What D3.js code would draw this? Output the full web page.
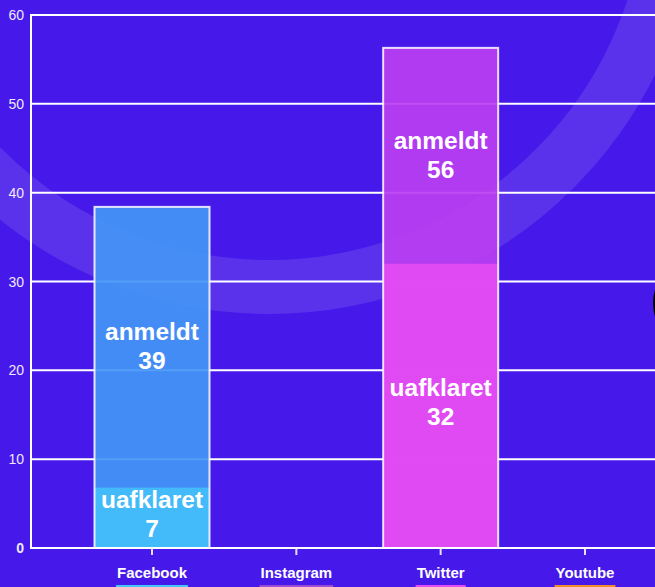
<!DOCTYPE html>
<html><head><meta charset="utf-8">
<script src="https://cdn.jsdelivr.net/npm/d3@7/dist/d3.min.js"></script>
<style>
html,body{margin:0;padding:0;background:#4619EA;overflow:hidden}
svg{display:block;font-family:"Liberation Sans",Arial,Helvetica,sans-serif}
</style></head>
<body><svg id="c" width="655" height="587"></svg>
<script>
const categories = ["Facebook", "Instagram", "Twitter", "Youtube"];
const anmeldt = [38.4, 0, 56.3, 0];
const uafklaret = [6.8, 0, 32, 0];
const anmeldtLabels = ["39", null, "56", null];
const uafklaretLabels = ["7", null, "32", null];
const anmeldtColors = ["#4496F5", "#8E4AE0", "#BB3EF0", "#F08A2C"];
const uafklaretColors = ["#44BBF9", "#9D4FD8", "#E24BF3", "#F08C2A"];
const legendColors = ["#42C6F8", "#9A4CD6", "#E24BF3", "#F08C2A"];
const yTicks = [0, 10, 20, 30, 40, 50, 60];

(function () {
const W = 655, H = 587;
const svg = d3.select("#c");
svg.append("rect").attr("width", W).attr("height", H).attr("fill", "#4619EA");

// decorative ring
svg.append("circle").attr("cx", 269).attr("cy", -117).attr("r", 404)
  .attr("fill", "none").attr("stroke", "#fff").attr("stroke-opacity", 0.11).attr("stroke-width", 54);
svg.append("circle").attr("cx", 699).attr("cy", 303).attr("r", 46).attr("fill", "#000");

const mLeft = 31, mRight = W, mTop = 15, mBottom = 548;
const y = d3.scaleLinear().domain([0, 60]).range([mBottom, mTop]);
const x = d3.scalePoint().domain(categories).range([152, 585]);
const bw = 115;

// grid
svg.append("g").selectAll("line").data(yTicks).join("line")
  .attr("x1", mLeft).attr("x2", mRight).attr("y1", d => y(d)).attr("y2", d => y(d))
  .attr("stroke", "#fff").attr("stroke-width", 2);

// y axis labels
svg.append("g").selectAll("text").data(yTicks).join("text")
  .attr("x", 24).attr("y", d => y(d)).attr("dy", "0.36em").attr("text-anchor", "end")
  .attr("fill", "#EEE9FF").attr("font-size", 14)
  .attr("font-weight", d => d === 0 ? "bold" : "normal")
  .text(d => d);

// bars
const bars = svg.append("g");
categories.forEach((c, i) => {
  if (anmeldt[i] > 0) {
    bars.append("rect").attr("x", x(c) - bw / 2).attr("y", y(anmeldt[i]))
      .attr("width", bw).attr("height", y(0) - y(anmeldt[i]))
      .attr("fill", anmeldtColors[i]).attr("fill-opacity", 0.92);
  }
  if (uafklaret[i] > 0) {
    bars.append("rect").attr("x", x(c) - bw / 2).attr("y", y(uafklaret[i]))
      .attr("width", bw).attr("height", y(0) - y(uafklaret[i]))
      .attr("fill", uafklaretColors[i]).attr("fill-opacity", 0.96);
  }
  if (anmeldt[i] > 0) {
    bars.append("rect").attr("x", x(c) - bw / 2).attr("y", y(anmeldt[i]))
      .attr("width", bw).attr("height", y(0) - y(anmeldt[i]))
      .attr("fill", "none").attr("stroke", "#fff").attr("stroke-opacity", 0.85).attr("stroke-width", 2);
  }
});

// axes lines
svg.append("line").attr("x1", mLeft).attr("x2", mLeft).attr("y1", mTop - 1).attr("y2", mBottom + 1)
  .attr("stroke", "#fff").attr("stroke-width", 2);
svg.append("line").attr("x1", mLeft).attr("x2", mRight).attr("y1", mBottom).attr("y2", mBottom)
  .attr("stroke", "#fff").attr("stroke-width", 2);

// x ticks
svg.append("g").selectAll("line").data(categories).join("line")
  .attr("x1", d => x(d)).attr("x2", d => x(d)).attr("y1", mBottom + 1).attr("y2", mBottom + 7)
  .attr("stroke", "#E6E0FF").attr("stroke-width", 2);

// x labels and underlines
const xl = svg.append("g");
categories.forEach((c, i) => {
  const t = xl.append("text").attr("x", x(c)).attr("y", 578).attr("text-anchor", "middle")
    .attr("fill", "#fff").attr("font-weight", "bold").attr("font-size", 15).text(c);
  const w = t.node().getComputedTextLength();
  xl.append("rect").attr("x", x(c) - w / 2 - 1).attr("y", 585).attr("width", w + 2).attr("height", 3)
    .attr("fill", legendColors[i]);
});

// value labels
const lab = svg.append("g").attr("fill", "#fff").attr("font-weight", "bold").attr("font-size", 24.5)
  .attr("text-anchor", "middle");
function label(cx, cy, name, val) {
  lab.append("text").attr("x", cx).attr("y", cy - 14.5).attr("dy", "0.35em").text(name);
  lab.append("text").attr("x", cx).attr("y", cy + 14.5).attr("dy", "0.35em").text(val);
}
categories.forEach((c, i) => {
  if (anmeldtLabels[i] !== null) label(x(c), (y(anmeldt[i]) + y(uafklaret[i])) / 2 - 1, "anmeldt", anmeldtLabels[i]);
  if (uafklaretLabels[i] !== null) label(x(c), (y(uafklaret[i]) + y(0)) / 2 - 4, "uafklaret", uafklaretLabels[i]);
});
})();
</script></body></html>
